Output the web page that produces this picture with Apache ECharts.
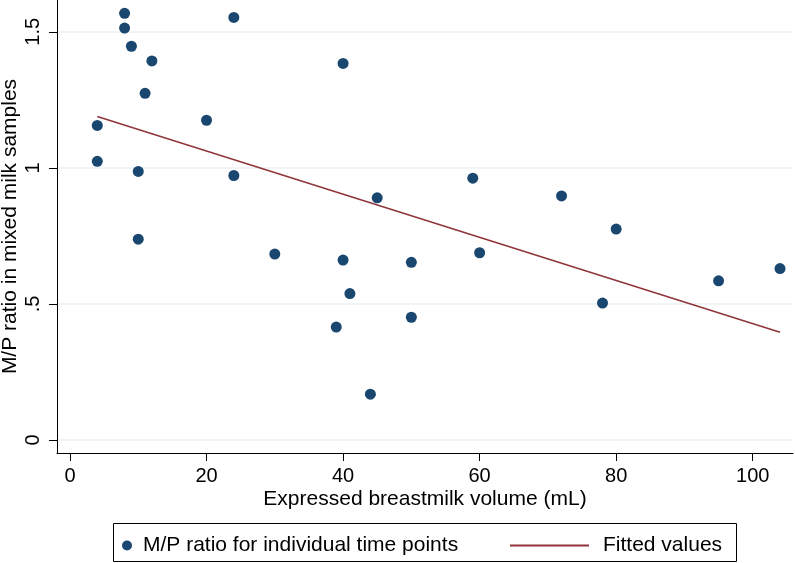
<!DOCTYPE html>
<html>
<head>
<meta charset="utf-8">
<script src="https://cdn.jsdelivr.net/npm/echarts@6/dist/echarts.min.js"></script>
<style>
  html, body { margin: 0; padding: 0; background: #fff; }
  #chart { width: 795px; height: 563px; }
</style>
</head>
<body>
<div id="chart"></div>
<script>
// expressed breastmilk volume (mL) and M/P ratio
var volume = [8, 8, 9, 12, 11, 4, 4, 10, 10, 24, 20, 24, 30, 40, 40, 41,
  45, 59, 72, 60, 50, 80, 104, 95, 39, 44, 50, 78]
var mpRatio = [1.568, 1.514, 1.447, 1.393, 1.274, 1.156, 1.024, 0.987, 0.738,
  1.553, 1.175, 0.972, 0.683, 1.384, 0.661, 0.538,
  0.890, 0.962, 0.897, 0.688, 0.653, 0.775, 0.630, 0.585, 0.415, 0.168, 0.451, 0.503]
// fitted line end points
var fitX = [4, 104]
var fitY = [1.189, 0.396]

var xTicks = [0, 20, 40, 60, 80, 100]
var yTicks = [0, 0.5, 1, 1.5]
var yTickLabels = ['0', '.5', '1', '1.5']

var scatterName = 'M/P ratio for individual time points'
var fitName = 'Fitted values'

var pts = []
for (var i = 0; i < volume.length; i++) {
  pts.push([volume[i], mpRatio[i]])
}
var fitPts = []
for (var j = 0; j < fitX.length; j++) {
  fitPts.push([fitX[j], fitY[j]])
}

var font = 'Liberation Sans, Arial, sans-serif'
var myChart = echarts.init(document.getElementById('chart'))
var option = {
  animation: false,
  backgroundColor: '#fff',
  textStyle: { fontFamily: font, color: '#000' },
  grid: { left: 57, right: 2, top: 0, bottom: 110, outerBoundsMode: 'none', containLabel: false },
  xAxis: {
    type: 'value',
    min: -1.9,
    max: 105.9,
    name: 'Expressed breastmilk volume (mL)',
    nameLocation: 'middle',
    nameGap: 36,
    nameMoveOverlap: false,
    nameTextStyle: { fontSize: 21, color: '#000', fontFamily: font },
    axisLine: { show: true, onZero: false, lineStyle: { color: '#000', width: 1 } },
    axisTick: { show: true, length: 8, customValues: xTicks, lineStyle: { color: '#000' } },
    axisLabel: { customValues: xTicks, fontSize: 20, color: '#000', margin: 13, fontFamily: font },
    splitLine: { show: false }
  },
  yAxis: {
    type: 'value',
    min: -0.048,
    max: 1.617,
    name: 'M/P ratio in mixed milk samples',
    nameLocation: 'middle',
    nameGap: 36,
    nameMoveOverlap: false,
    nameTextStyle: { fontSize: 21, color: '#000', fontFamily: font },
    axisLine: { show: true, onZero: false, lineStyle: { color: '#000', width: 1 } },
    axisTick: { show: true, length: 8, customValues: yTicks, lineStyle: { color: '#000' } },
    axisLabel: {
      customValues: yTicks,
      rotate: 90,
      fontSize: 20,
      color: '#000',
      margin: 14,
      fontFamily: font,
      formatter: function (v) {
        var k = yTicks.indexOf(v)
        return k >= 0 ? yTickLabels[k] : ''
      }
    },
    splitLine: { show: true, lineStyle: { color: '#eaf2f3', width: 1.5 } }
  },
  legend: [
    {
      data: [scatterName],
      left: 122,
      top: 535,
      padding: 0,
      itemWidth: 10,
      itemHeight: 10,
      icon: 'circle',
      formatter: '{p|{name}}',
      textStyle: {
        fontSize: 21,
        color: '#000',
        fontFamily: font,
        rich: { p: { fontSize: 21, color: '#000', fontFamily: font, padding: [0, 0, 0, 6] } }
      }
    },
    {
      data: [fitName],
      left: 510,
      top: 535,
      padding: 0,
      itemWidth: 79,
      itemHeight: 2,
      icon: 'rect',
      formatter: '{p|{name}}',
      textStyle: {
        fontSize: 21,
        color: '#000',
        fontFamily: font,
        rich: { p: { fontSize: 21, color: '#000', fontFamily: font, padding: [0, 0, 0, 9] } }
      }
    }
  ],
  graphic: [
    {
      type: 'rect',
      shape: { x: 113.5, y: 523.5, width: 623, height: 38 },
      style: { fill: 'none', stroke: '#000', lineWidth: 1 }
    }
  ],
  series: [
    {
      name: scatterName,
      type: 'scatter',
      data: pts,
      symbolSize: 11,
      itemStyle: { color: '#1a476f', opacity: 1 }
    },
    {
      name: fitName,
      type: 'line',
      data: fitPts,
      showSymbol: false,
      symbol: 'none',
      lineStyle: { color: '#90353b', width: 1.6 },
      itemStyle: { color: '#90353b' },
      z: 3
    }
  ]
}
myChart.setOption(option)
</script>
</body>
</html>
